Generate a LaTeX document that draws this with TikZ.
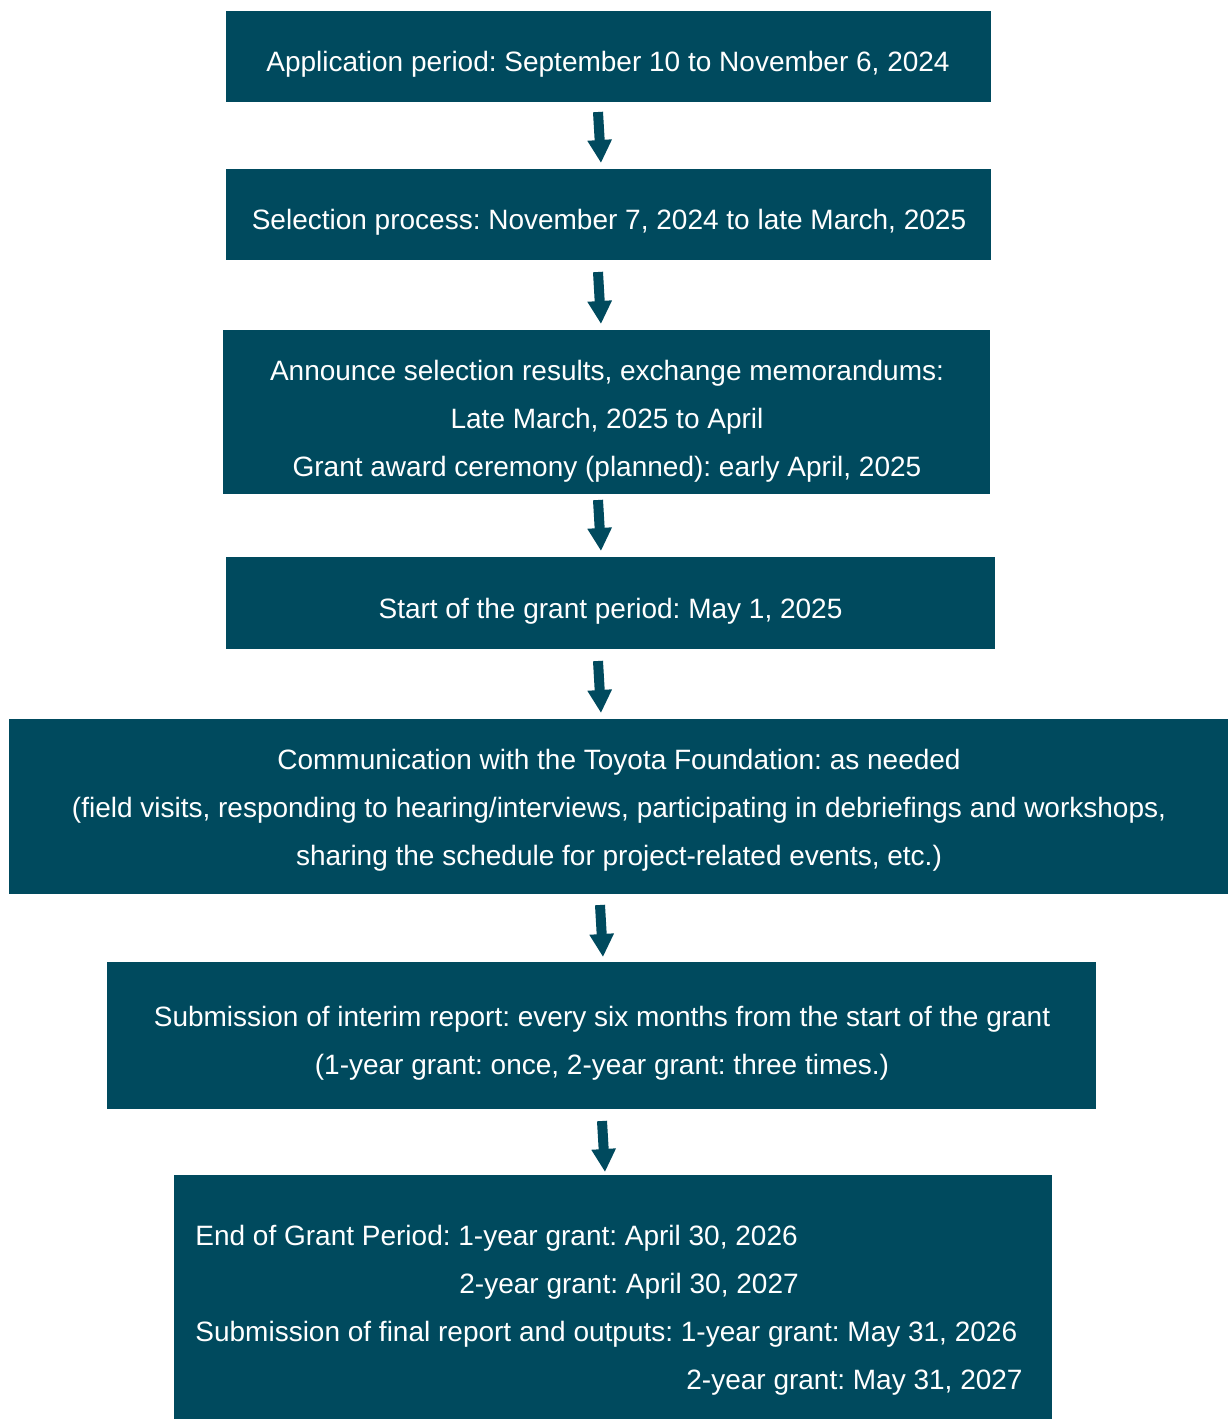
\documentclass[tikz,border=0pt]{standalone}
\usepackage{fontspec}
\setmainfont{Liberation Sans}
\usetikzlibrary{arrows.meta}
\definecolor{teal}{RGB}{0,74,94}
\frenchspacing
\tikzset{
  box/.style={fill=teal, draw=none, inner sep=0pt, rectangle},
  txt/.style={text=white, inner sep=0pt, anchor=base, font=\fontsize{14}{24}\selectfont},
  txtl/.style={txt, anchor=base west},
  flow/.style={draw=teal, line width=5pt, -{Triangle[width=11.5pt,length=11.5pt]}}
}
\begin{document}
\begin{tikzpicture}[x=0.5pt,y=-0.5pt]
\useasboundingbox (0,0) rectangle (1228,1419);
% boxes
\node[box, minimum width=382.5pt, minimum height=45.5pt] (b1) at (608.5,56.5) {};
\node[box, minimum width=382.5pt, minimum height=45.5pt] (b2) at (608.5,214.5) {};
\node[box, minimum width=383.5pt, minimum height=82pt] (b3) at (606.5,412) {};
\node[box, minimum width=384.5pt, minimum height=46pt] (b4) at (610.5,603) {};
\node[box, minimum width=609.5pt, minimum height=87.5pt] (b5) at (618.5,806.5) {};
\node[box, minimum width=494.5pt, minimum height=73.5pt] (b6) at (601.5,1035.5) {};
\node[box, minimum width=439pt, minimum height=122pt] (b7) at (613,1297) {};
% texts
\node[txt] (t1) at (608,71.5) {Application period: September 10 to November 6, 2024};
\node[txt] (t2) at (609,229.5) {Selection process: November 7, 2024 to late March, 2025};
\node[txt] (t3a) at (607,380.5) {Announce selection results, exchange memorandums:};
\node[txt] (t3b) at (607,428.5) {Late March, 2025 to April};
\node[txt] (t3c) at (607,476.5) {Grant award ceremony (planned): early April, 2025};
\node[txt] (t4) at (610.5,618.5) {Start of the grant period: May 1, 2025};
\node[txt] (t5a) at (619,769.5) {Communication with the Toyota Foundation: as needed};
\node[txt] (t5b) at (619,817.5) {(field visits, responding to hearing/interviews, participating in debriefings and workshops,};
\node[txt] (t5c) at (619,865.5) {sharing the schedule for project-related events, etc.)};
\node[txt] (t6a) at (602,1026.5) {Submission of interim report: every six months from the start of the grant};
\node[txt] (t6b) at (602,1074.5) {(1-year grant: once, 2-year grant: three times.)};
\node[txtl] (t7a) at (195,1245.5) {End of Grant Period: 1-year grant: April 30, 2026};
\node[txtl] (t7b) at (459,1293.5) {2-year grant: April 30, 2027};
\node[txtl] (t7c) at (195,1341.5) {Submission of final report and outputs: 1-year grant: May 31, 2026};
\node[txtl] (t7d) at (686,1389.5) {2-year grant: May 31, 2027};
% arrows
\coordinate (a1s) at (598,112); \coordinate (a1e) at (601,163);
\coordinate (a2s) at (598,272); \coordinate (a2e) at (601,324);
\coordinate (a3s) at (598,500); \coordinate (a3e) at (601,551);
\coordinate (a4s) at (598,661); \coordinate (a4e) at (601,713);
\coordinate (a5s) at (600,905); \coordinate (a5e) at (603,957);
\coordinate (a6s) at (602,1121); \coordinate (a6e) at (605,1172);
\draw[flow] (a1s) -- (a1e);
\draw[flow] (a2s) -- (a2e);
\draw[flow] (a3s) -- (a3e);
\draw[flow] (a4s) -- (a4e);
\draw[flow] (a5s) -- (a5e);
\draw[flow] (a6s) -- (a6e);
\end{tikzpicture}
\end{document}
